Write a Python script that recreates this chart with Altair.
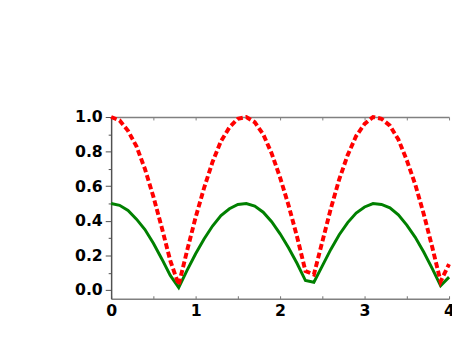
import altair as alt
import pandas as pd

# x sample positions
x_vals = [0.0, 0.1, 0.2, 0.3, 0.4, 0.5, 0.6, 0.7, 0.8, 0.9,
          1.0, 1.1, 1.2, 1.3, 1.4, 1.5, 1.6, 1.7, 1.8, 1.9,
          2.0, 2.1, 2.2, 2.3, 2.4, 2.5, 2.6, 2.7, 2.8, 2.9,
          3.0, 3.1, 3.2, 3.3, 3.4, 3.5, 3.6, 3.7, 3.8, 3.9, 4.0]

# red dashed series
red_vals = [1.00, 0.98, 0.92, 0.83, 0.70, 0.54, 0.36, 0.17, 0.03, 0.23,
            0.42, 0.59, 0.74, 0.86, 0.94, 0.99, 1.00, 0.97, 0.90, 0.79,
            0.65, 0.49, 0.31, 0.11, 0.09, 0.28, 0.47, 0.64, 0.78, 0.89,
            0.96, 1.00, 0.99, 0.95, 0.87, 0.75, 0.61, 0.44, 0.25, 0.05, 0.15]

# green solid series
green_vals = [0.50, 0.49, 0.46, 0.41, 0.35, 0.27, 0.18, 0.085, 0.015, 0.115,
              0.21, 0.295, 0.37, 0.43, 0.47, 0.495, 0.50, 0.485, 0.45, 0.395,
              0.325, 0.245, 0.155, 0.055, 0.045, 0.14, 0.235, 0.32, 0.39, 0.445,
              0.48, 0.50, 0.495, 0.475, 0.435, 0.375, 0.305, 0.22, 0.125, 0.025, 0.075]

x_tick_labels = [0, 1, 2, 3, 4]
x_half_ticks = [0, 0.5, 1, 1.5, 2, 2.5, 3, 3.5, 4]
y_tick_labels = [0.0, 0.2, 0.4, 0.6, 0.8, 1.0]
y_minor_ticks = [0.1, 0.3, 0.5, 0.7, 0.9]

df = pd.DataFrame({"x": x_vals, "red": red_vals, "green": green_vals})

W, H = 344, 185
FONT = "DejaVu Sans"
FS = 16
xs = alt.Scale(domain=[0, 4], nice=False, zero=False)
ys = alt.Scale(domain=[-0.05, 1.0], nice=False, zero=False)

base = alt.Chart(df)

# invisible layer carrying the top frame line with inward ticks
top_layer = base.mark_line(opacity=0).encode(
    x=alt.X("x:Q", scale=xs, axis=alt.Axis(
        orient="bottom", offset=-H, values=x_half_ticks, labels=False,
        ticks=True, tickSize=3, tickColor="#808080", domainColor="#808080",
        domainWidth=1.5, grid=False, title=None)),
    y=alt.Y("green:Q", scale=ys, axis=None),
)

green_layer = base.mark_line(color="#008000", strokeWidth=3).encode(
    x=alt.X("x:Q", scale=xs, axis=alt.Axis(
        orient="top", offset=-H, values=x_half_ticks, labels=False,
        ticks=True, tickSize=3, tickColor="#707070", domainColor="#808080",
        domainWidth=1.5, grid=False, title=None)),
    y=alt.Y("green:Q", scale=ys, axis=alt.Axis(
        orient="left", values=y_minor_ticks, labels=False, ticks=True,
        tickSize=3, tickColor="#505050", domain=False, grid=False, title=None)),
)

red_layer = base.mark_line(color="#ff0000", strokeWidth=4, strokeDash=[6, 3]).encode(
    x=alt.X("x:Q", scale=xs, axis=alt.Axis(
        orient="bottom", values=x_tick_labels, ticks=False, domain=False,
        labelPadding=4, labelFont=FONT, labelFontSize=FS, labelFontWeight="bold",
        labelColor="#000000", labelFlush=False, labelOverlap=False,
        grid=False, title=None, format="d")),
    y=alt.Y("red:Q", scale=ys, axis=alt.Axis(
        orient="left", values=y_tick_labels, ticks=True, tickSize=6,
        tickColor="#505050", domainColor="#505050", domainWidth=1.5,
        labelPadding=3, labelFont=FONT, labelFontSize=FS, labelFontWeight="bold",
        labelColor="#000000", labelFlush=False, labelOverlap=False,
        grid=False, title=None, format=".1f")),
)

chart = alt.layer(top_layer, green_layer, red_layer).resolve_axis(
    x="independent", y="independent"
).properties(
    width=W, height=H,
    autosize=alt.AutoSizeParams(type="none"),
    padding={"left": 105, "top": 108, "right": 3, "bottom": 37},
).configure_view(stroke=None)

chart.save("out.html", embed_options={"renderer": "svg", "actions": False})
